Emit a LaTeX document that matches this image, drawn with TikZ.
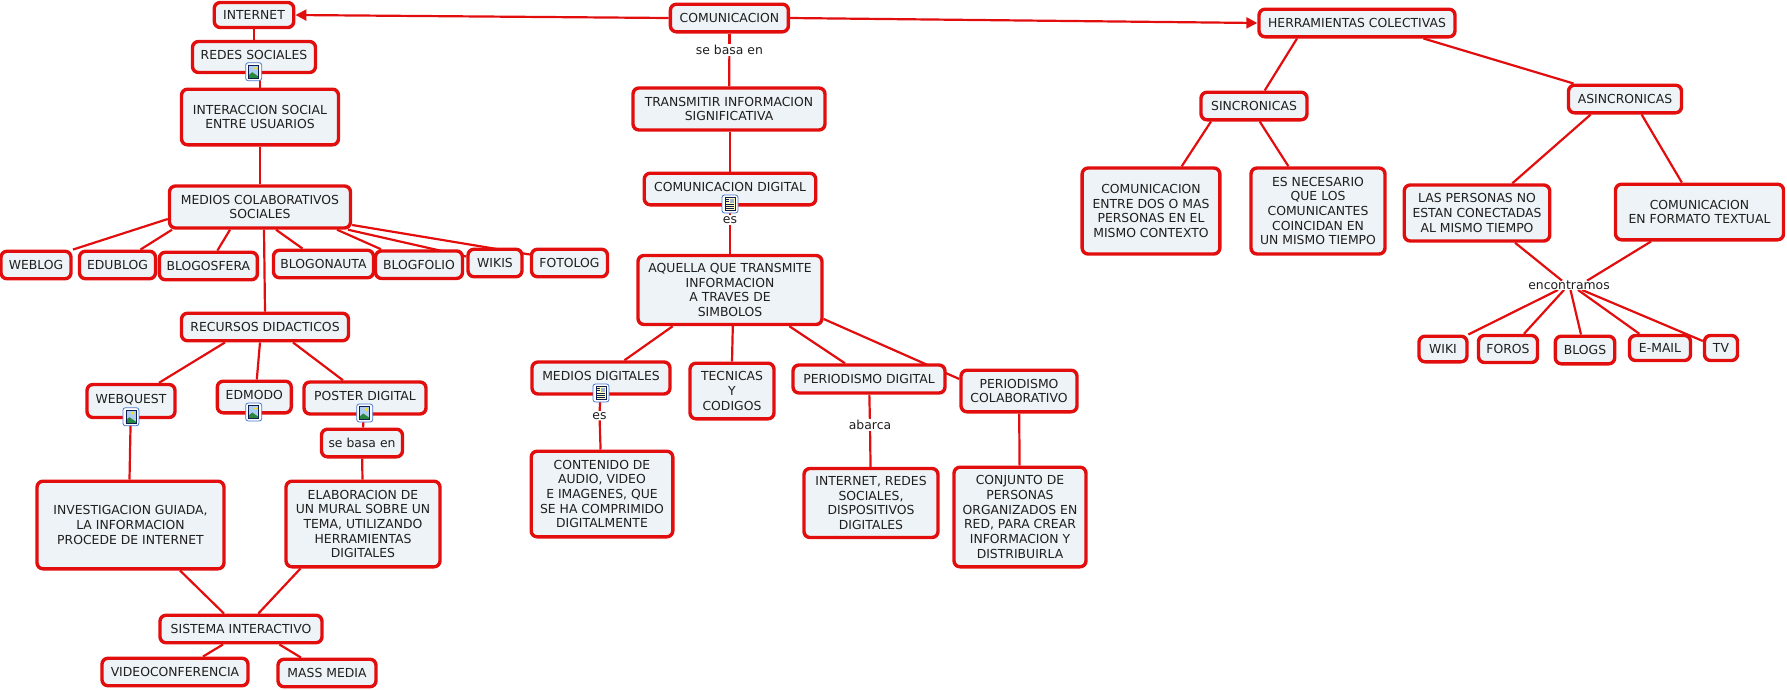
\documentclass[tikz,border=0pt]{standalone}
\usepackage{fontspec}
\setmainfont{DejaVu Sans}
\usetikzlibrary{arrows.meta,backgrounds}
\definecolor{conred}{RGB}{226,14,14}
\definecolor{boxfill}{RGB}{237,243,246}
\definecolor{iconblue}{RGB}{70,120,205}
\definecolor{iconsky}{RGB}{175,205,240}
\definecolor{iconhill}{RGB}{40,135,60}
\definecolor{iconnavy}{RGB}{15,30,80}
\tikzset{
  concept/.style={draw=conred,line width=3.4pt,fill=boxfill,rounded corners=6pt,align=center,inner sep=0pt,
    font=\fontsize{12.4}{14.7}\selectfont,text=black!88},
  linklabel/.style={fill=white,inner sep=1pt,font=\fontsize{12.4}{14.7}\selectfont,text=black!88},
  link/.style={draw=conred,line width=2.2pt},
  iconbox/.style={draw=iconblue,line width=0.8pt,fill=white,rounded corners=2.5pt,minimum width=16pt,minimum height=18pt,inner sep=0pt}
}
% text lifted above the icon
\newcommand{\uptext}[1]{\raisebox{5pt}{#1}}
% icons: image and document
\newcommand{\imgicon}[3]{
  \node [iconbox] (#1) at (#2,#3) {};
  \fill [iconsky] (#2-5,#3-6.5) rectangle (#2+5,#3+6.5);
  \fill [iconhill] (#2-5,#3+6.5) -- (#2-5,#3+3.5) -- (#2-1.5,#3+0.5) -- (#2+5,#3+5) -- (#2+5,#3+6.5) -- cycle;
  \fill [yellow!85!orange] (#2+2,#3-3.5) circle (1.5pt);
  \draw [iconnavy,line width=0.7pt] (#2-5,#3-6.5) rectangle (#2+5,#3+6.5);
}
\newcommand{\docicon}[3]{
  \node [iconbox] (#1) at (#2,#3) {};
  \fill [yellow!25] (#2-5,#3-6.5) rectangle (#2+5,#3+6.5);
  \fill [iconsky!70!gray] (#2,#3-5.5) rectangle (#2+4,#3-1);
  \foreach \dy in {0.5,2.5,4.5}
    \draw [iconnavy,line width=0.6pt] (#2-4,#3+\dy) -- (#2+4,#3+\dy);
  \foreach \dy in {-4.5,-2.5}
    \draw [iconnavy,line width=0.6pt] (#2-4,#3+\dy) -- (#2-1,#3+\dy);
  \draw [iconnavy,line width=0.7pt] (#2-5,#3-6.5) rectangle (#2+5,#3+6.5);
}
\begin{document}
\begin{tikzpicture}[x=1pt,y=-1pt]
\useasboundingbox (0,0) rectangle (1787,689);
% left branch
\node [concept,minimum width=79.5pt,minimum height=25pt] (internet) at (254,15) {INTERNET};
\node [concept,minimum width=123pt,minimum height=31pt] (redes) at (254,57) {\uptext{REDES SOCIALES}};
\node [concept,minimum width=157pt,minimum height=55.6pt] (interaccion) at (260,117) {INTERACCION SOCIAL\\ENTRE USUARIOS};
\node [concept,minimum width=181pt,minimum height=42pt] (colaborativos) at (260,207) {MEDIOS COLABORATIVOS\\SOCIALES};
\node [concept,minimum width=70pt,minimum height=27.5pt] (weblog) at (36,265) {WEBLOG};
\node [concept,minimum width=76pt,minimum height=27.5pt] (edublog) at (117.5,265) {EDUBLOG};
\node [concept,minimum width=98pt,minimum height=27.5pt] (blogosfera) at (208.4,266) {BLOGOSFERA};
\node [concept,minimum width=100pt,minimum height=27.5pt] (blogonauta) at (323.5,264) {BLOGONAUTA};
\node [concept,minimum width=87pt,minimum height=27.5pt] (blogfolio) at (419,264.7) {BLOGFOLIO};
\node [concept,minimum width=54pt,minimum height=27.5pt] (wikis) at (495,263) {WIKIS};
\node [concept,minimum width=76pt,minimum height=27.5pt] (fotolog) at (569.5,263) {FOTOLOG};
\node [concept,minimum width=167pt,minimum height=27.5pt] (recursos) at (265,327) {RECURSOS DIDACTICOS};
\node [concept,minimum width=88pt,minimum height=33pt] (webquest) at (131,401) {\uptext{WEBQUEST}};
\node [concept,minimum width=74pt,minimum height=31.6pt] (edmodo) at (254.3,397) {\uptext{EDMODO}};
\node [concept,minimum width=122pt,minimum height=32pt] (poster) at (365,398) {\uptext{POSTER DIGITAL}};
\node [concept,minimum width=81pt,minimum height=27.6pt] (sebasaposter) at (362,443) {se basa en};
\node [concept,minimum width=187pt,minimum height=87.6pt] (investigacion) at (130.5,525) {INVESTIGACION GUIADA,\\LA INFORMACION\\PROCEDE DE INTERNET};
\node [concept,minimum width=154pt,minimum height=85.6pt] (elaboracion) at (363,524) {ELABORACION DE\\UN MURAL SOBRE UN\\TEMA, UTILIZANDO\\HERRAMIENTAS\\DIGITALES};
\node [concept,minimum width=162pt,minimum height=27.5pt] (sistema) at (241,629) {SISTEMA INTERACTIVO};
\node [concept,minimum width=146pt,minimum height=27.5pt] (video) at (175,672) {VIDEOCONFERENCIA};
\node [concept,minimum width=98pt,minimum height=27.5pt] (mass) at (327,673) {MASS MEDIA};
% center branch
\node [concept,minimum width=118pt,minimum height=27.6pt] (comunicacion) at (729.4,18) {COMUNICACION};
\node [linklabel] (sebasa) at (729.4,50) {se basa en};
\node [concept,minimum width=192pt,minimum height=42pt] (transmitir) at (729,109) {TRANSMITIR INFORMACION\\SIGNIFICATIVA};
\node [concept,minimum width=171.5pt,minimum height=31.6pt] (comdigital) at (730,189) {\uptext{COMUNICACION DIGITAL}};
\node [linklabel] (es) at (730,220) {es};
\node [concept,minimum width=184pt,minimum height=69pt] (aquella) at (730,290) {AQUELLA QUE TRANSMITE\\INFORMACION\\A TRAVES DE\\SIMBOLOS};
\node [concept,minimum width=138pt,minimum height=32pt] (mediosdig) at (601,378) {\uptext{MEDIOS DIGITALES}};
\node [linklabel] (esdos) at (599.5,415.7) {es};
\node [concept,minimum width=141.6pt,minimum height=85.6pt] (contenido) at (602,494) {CONTENIDO DE\\AUDIO, VIDEO\\E IMAGENES, QUE\\SE HA COMPRIMIDO\\DIGITALMENTE};
\node [concept,minimum width=84pt,minimum height=55.6pt] (tecnicas) at (732,391) {TECNICAS\\Y\\CODIGOS};
\node [concept,minimum width=152pt,minimum height=28pt] (periodismo) at (869,379) {PERIODISMO DIGITAL};
\node [linklabel] (abarca) at (870,425) {abarca};
\node [concept,minimum width=116pt,minimum height=41.6pt] (colaborativo) at (1019,391) {PERIODISMO\\COLABORATIVO};
\node [concept,minimum width=134pt,minimum height=69pt] (internetredes) at (871,503) {INTERNET, REDES\\SOCIALES,\\DISPOSITIVOS\\DIGITALES};
\node [concept,minimum width=132pt,minimum height=99.6pt] (conjunto) at (1020,517) {CONJUNTO DE\\PERSONAS\\ORGANIZADOS EN\\RED, PARA CREAR\\INFORMACION Y\\DISTRIBUIRLA};
% right branch
\node [concept,minimum width=196pt,minimum height=27.6pt] (herramientas) at (1357,23) {HERRAMIENTAS COLECTIVAS};
\node [concept,minimum width=106pt,minimum height=27.6pt] (sincronicas) at (1254,106) {SINCRONICAS};
\node [concept,minimum width=113pt,minimum height=27.6pt] (asincronicas) at (1625,99) {ASINCRONICAS};
\node [concept,minimum width=137.7pt,minimum height=86pt] (entredos) at (1151,211) {COMUNICACION\\ENTRE DOS O MAS\\PERSONAS EN EL\\MISMO CONTEXTO};
\node [concept,minimum width=134pt,minimum height=86pt] (necesario) at (1318,211) {ES NECESARIO\\QUE LOS\\COMUNICANTES\\COINCIDAN EN\\UN MISMO TIEMPO};
\node [concept,minimum width=145.5pt,minimum height=56pt] (personas) at (1477,213) {LAS PERSONAS NO\\ESTAN CONECTADAS\\AL MISMO TIEMPO};
\node [concept,minimum width=168pt,minimum height=55.6pt] (formato) at (1699.5,212) {COMUNICACION\\EN FORMATO TEXTUAL};
\node [linklabel,inner sep=0pt] (encontramos) at (1569,285.3) {encontramos};
\node [concept,minimum width=48pt,minimum height=25.6pt] (wiki) at (1443,349) {WIKI};
\node [concept,minimum width=59pt,minimum height=27pt] (foros) at (1508,349) {FOROS};
\node [concept,minimum width=59.4pt,minimum height=27.6pt] (blogs) at (1585,350) {BLOGS};
\node [concept,minimum width=61pt,minimum height=25pt] (email) at (1660,348) {E-MAIL};
\node [concept,minimum width=33pt,minimum height=25pt] (tv) at (1721,348) {TV};
% icons
\imgicon{iconredes}{253.7}{71.7}
\imgicon{iconwebquest}{130.9}{416.7}
\imgicon{iconedmodo}{253.7}{412}
\imgicon{iconposter}{364.7}{413}
\docicon{iconcomdigital}{730}{204}
\docicon{iconmedios}{601}{393}
% connectors
\begin{pgfonlayer}{background}
\draw [link,-{Triangle[length=11pt,width=11pt]}] (comunicacion.west) -- (internet.east);
\draw [link,-{Triangle[length=11pt,width=11pt]}] (comunicacion.east) -- (herramientas.west);
\draw [link] (internet) -- (redes);
\draw [link] ([xshift=6pt]redes.south) -- (interaccion.north);
\draw [link] (interaccion) -- (colaborativos);
\draw [link] ([yshift=-12pt]colaborativos.west) -- ([xshift=37pt]weblog.north);
\draw [link] ([xshift=-88pt]colaborativos.south) -- ([xshift=23pt]edublog.north);
\draw [link] ([xshift=-30pt]colaborativos.south) -- ([xshift=9pt]blogosfera.north);
\draw [link] ([xshift=4pt]colaborativos.south) -- (recursos.north);
\draw [link] ([xshift=16pt]colaborativos.south) -- ([xshift=-21pt]blogonauta.north);
\draw [link] ([xshift=77pt]colaborativos.south) -- ([xshift=-38pt]blogfolio.north);
\draw [link] ([xshift=88pt]colaborativos.south) -- (wikis);
\draw [link] ([yshift=-18pt]colaborativos.east) -- ([yshift=8.5pt]fotolog.west);
\draw [link] ([xshift=-40pt]recursos.south) -- ([xshift=28pt]webquest.north);
\draw [link] ([xshift=-5pt]recursos.south) -- ([xshift=2.5pt]edmodo.north);
\draw [link] ([xshift=28pt]recursos.south) -- ([xshift=-22pt]poster.north);
\draw [link] (webquest) -- ([xshift=-1pt]investigacion.north);
\draw [link] (poster) -- (sebasaposter);
\draw [link] (sebasaposter) -- (elaboracion);
\draw [link] ([xshift=49.5pt]investigacion.south) -- ([xshift=-17pt]sistema.north);
\draw [link] ([xshift=-62.5pt]elaboracion.south) -- ([xshift=17.3pt]sistema.north);
\draw [link] ([xshift=-18pt]sistema.south) -- ([xshift=28pt]video.north);
\draw [link] ([xshift=38.4pt]sistema.south) -- ([xshift=-26pt]mass.north);
\draw [link] (comunicacion) -- (sebasa);
\draw [link] (sebasa) -- (transmitir);
\draw [link] ([xshift=1pt]transmitir.south) -- (comdigital);
\draw [link] (comdigital) -- (es);
\draw [link] (es) -- (aquella);
\draw [link] ([xshift=-57.3pt]aquella.south) -- ([xshift=23.4pt]mediosdig.north);
\draw [link] ([xshift=2.8pt]aquella.south) -- (tecnicas.north);
\draw [link] ([xshift=59.4pt]aquella.south) -- ([xshift=-24pt]periodismo.north);
\draw [link] ([yshift=-29pt]aquella.east) -- ([yshift=12pt]colaborativo.west);
\draw [link] (mediosdig) -- (esdos);
\draw [link] (esdos) -- (contenido);
\draw [link] (periodismo) -- (abarca);
\draw [link] (abarca) -- (internetredes);
\draw [link] (colaborativo) -- (conjunto);
\draw [link] ([xshift=-60pt]herramientas.south) -- ([xshift=10.7pt]sincronicas.north);
\draw [link] ([xshift=66.5pt]herramientas.south) -- ([xshift=-51.5pt]asincronicas.north);
\draw [link] ([xshift=-43pt]sincronicas.south) -- ([xshift=30.7pt]entredos.north);
\draw [link] ([xshift=5.7pt]sincronicas.south) -- ([xshift=-29.6pt]necesario.north);
\draw [link] ([xshift=-34.3pt]asincronicas.south) -- ([xshift=35.3pt]personas.north);
\draw [link] ([xshift=16.6pt]asincronicas.south) -- ([xshift=-17.7pt]formato.north);
\draw [link] ([xshift=38pt]personas.south) -- ([xshift=-7pt]encontramos.north);
\draw [link] ([xshift=-48.5pt]formato.south) -- ([xshift=18pt]encontramos.north);
\draw [link] ([xshift=-11pt]encontramos.south) -- ([xshift=25.3pt]wiki.north);
\draw [link] ([xshift=-5pt]encontramos.south) -- ([xshift=16pt]foros.north);
\draw [link] ([xshift=1.5pt]encontramos.south) -- ([xshift=-4pt]blogs.north);
\draw [link] ([xshift=9pt]encontramos.south) -- ([xshift=-20.6pt]email.north);
\draw [link] ([xshift=13pt]encontramos.south) -- ([yshift=7pt]tv.west);
\end{pgfonlayer}
\end{tikzpicture}
\end{document}
